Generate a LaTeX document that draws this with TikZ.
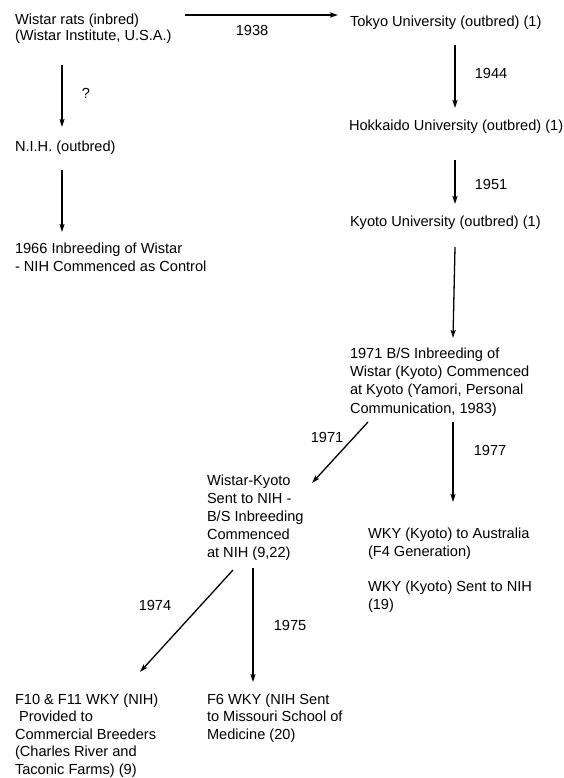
\documentclass[tikz,border=0pt]{standalone}
\usepackage{fontspec}
\setmainfont{Liberation Sans}
\usetikzlibrary{arrows.meta,calc}
\tikzset{
  txt/.style={anchor=base west, inner sep=0pt, outer sep=0pt, align=left,
    font=\fontsize{14.6}{18}\selectfont},
  lbl/.style={anchor=center, inner sep=0pt, font=\fontsize{14.6}{18}\selectfont},
  arr/.style={line width=1.3pt, -{Stealth[length=8pt,width=5pt,inset=1.5pt]}}
}
\begin{document}
\begin{tikzpicture}[x=1pt,y=-1pt]
\useasboundingbox (0,0) rectangle (564,778);
% text nodes (base = baseline of the last line)
\node[txt, font=\fontsize{14.6}{16}\selectfont] (wistar) at (15,41) {Wistar rats (inbred)\\(Wistar Institute, U.S.A.)};
\node[txt] (tokyo) at (350,27) {Tokyo University (outbred) (1)};
\node[txt] (nih) at (15,152) {N.I.H. (outbred)};
\node[txt] (ctrl) at (15,271) {1966 Inbreeding of Wistar\\- NIH Commenced as Control};
\node[txt] (hokk) at (349,131) {Hokkaido University (outbred) (1)};
\node[txt] (kyoto) at (350,226) {Kyoto University (outbred) (1)};
\node[txt, font=\fontsize{14.6}{18.3}\selectfont] (bs) at (350,413) {1971 B/S Inbreeding of\\Wistar (Kyoto) Commenced\\at Kyoto (Yamori, Personal\\Communication, 1983)};
\node[txt] (wkynih) at (207,557) {Wistar-Kyoto\\Sent to NIH -\\B/S Inbreeding\\Commenced\\at NIH (9,22)};
\node[txt] (aus) at (368,556) {WKY (Kyoto) to Australia\\(F4 Generation)};
\node[txt] (wky19) at (368,609) {WKY (Kyoto) Sent to NIH\\(19)};
\node[txt, font=\fontsize{14.6}{17.5}\selectfont] (f10) at (15,774) {F10 \& F11 WKY (NIH)\\\ Provided to\\Commercial Breeders\\(Charles River and\\Taconic Farms) (9)};
\node[txt, font=\fontsize{14.6}{17.5}\selectfont] (f6) at (207,739) {F6 WKY (NIH Sent\\to Missouri School of\\Medicine (20)};
% labels
\node[lbl] (l1938) at (252,30) {1938};
\node[lbl] (lq) at (86,93) {?};
\node[lbl] (l1944) at (491,73) {1944};
\node[lbl] (l1951) at (491,184) {1951};
\node[lbl] (l1971) at (327,437) {1971};
\node[lbl] (l1977) at (490,450) {1977};
\node[lbl] (l1974) at (155,605) {1974};
\node[lbl] (l1975) at (290,625) {1975};
% connectors
\draw[arr] ($(wistar.base west)+(170,-26)$) -- ($(tokyo.base west)+(-12,-12)$);
\draw[arr] ($(wistar.base west)+(47,24)$) -- ($(nih.base west)+(47,-25)$);
\draw[arr] ($(nih.base west)+(47,18)$) -- ($(ctrl.base west)+(47,-39)$);
\draw[arr] ($(tokyo.base west)+(105,18)$) -- ($(hokk.base west)+(106,-23)$);
\draw[arr] ($(hokk.base west)+(106,29)$) -- ($(kyoto.base west)+(105,-22)$);
\draw[arr] ($(kyoto.base west)+(105,21)$) -- ($(bs.base west)+(103,-75)$);
\draw[arr] ($(bs.base west)+(18,9)$) -- ($(wkynih.base west)+(105,-74)$);
\draw[arr] ($(bs.base west)+(103,9)$) -- ($(aus.base west)+(85,-54)$);
\draw[arr] ($(wkynih.base west)+(26,13)$) -- ($(f10.base west)+(125,-102)$);
\draw[arr] ($(wkynih.base west)+(46,11)$) -- ($(f6.base west)+(46,-57)$);
\end{tikzpicture}
\end{document}
